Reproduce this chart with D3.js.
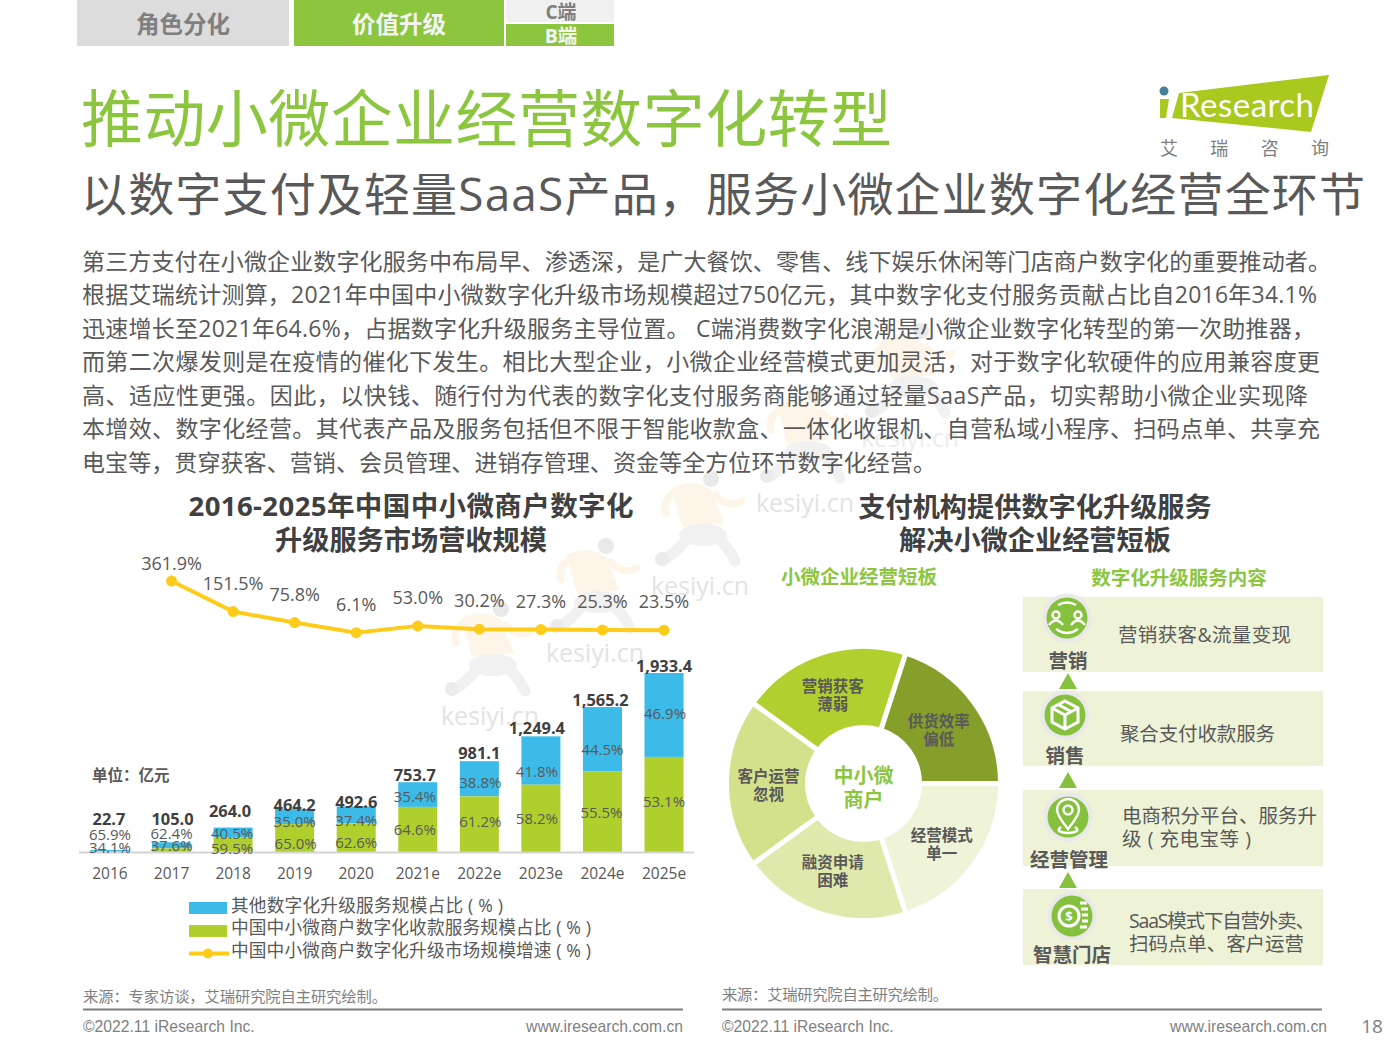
<!DOCTYPE html>
<html lang="zh">
<head>
<meta charset="UTF-8">
<title>推动小微企业经营数字化转型</title>
<script src="https://d3js.org/d3.v7.min.js"></script>
<style>
    html, body { margin: 0; background: #fff; }
    svg { display: block; }
    text { font-family: "Open Sans", "Noto Sans CJK SC", sans-serif; }
    .cjk { font-family: "Noto Sans CJK SC", sans-serif; }
    .arial { font-family: "Liberation Sans", Arial, sans-serif; }
    .lato { font-family: Lato, sans-serif; }
    .axis path, .axis line { display: none; }
</style>
</head>
<body>
<svg id="page" width="1400" height="1050"></svg>
<script>
// chart data
const years = ["2016", "2017", "2018", "2019", "2020", "2021e", "2022e", "2023e", "2024e", "2025e"];
const revenue = [22.7, 105.0, 264.0, 464.2, 492.6, 753.7, 981.1, 1249.4, 1565.2, 1933.4];
const revenueLabels = ["22.7", "105.0", "264.0", "464.2", "492.6", "753.7", "981.1", "1,249.4", "1,565.2", "1,933.4"];
const paymentShare = [34.1, 37.6, 59.5, 65.0, 62.6, 64.6, 61.2, 58.2, 55.5, 53.1];
const otherShare = [65.9, 62.4, 40.5, 35.0, 37.4, 35.4, 38.8, 41.8, 44.5, 46.9];
const growth = [361.9, 151.5, 75.8, 6.1, 53.0, 30.2, 27.3, 25.3, 23.5];

const legendLabels = ["其他数字化升级服务规模占比 ( % )", "中国中小微商户数字化收款服务规模占比 ( % )", "中国中小微商户数字化升级市场规模增速 ( % )"];
const painPoints = ["营销获客|薄弱", "供货效率|偏低", "经营模式|单一", "融资申请|困难", "客户运营|忽视"];
const serviceNames = ["营销", "销售", "经营管理", "智慧门店"];
const serviceTexts = [
    ["营销获客&流量变现"],
    ["聚合支付收款服务"],
    ["电商积分平台、服务升", "级 ( 充电宝等 )"],
    ["SaaS模式下自营外卖、", "扫码点单、客户运营"]
];
const bodyLines = [
    "第三方支付在小微企业数字化服务中布局早、渗透深，是广大餐饮、零售、线下娱乐休闲等门店商户数字化的重要推动者。",
    "根据艾瑞统计测算，2021年中国中小微数字化升级市场规模超过750亿元，其中数字化支付服务贡献占比自2016年34.1%",
    "迅速增长至2021年64.6%，占据数字化升级服务主导位置。 C端消费数字化浪潮是小微企业数字化转型的第一次助推器，",
    "而第二次爆发则是在疫情的催化下发生。相比大型企业，小微企业经营模式更加灵活，对于数字化软硬件的应用兼容度更",
    "高、适应性更强。因此，以快钱、随行付为代表的数字化支付服务商能够通过轻量SaaS产品，切实帮助小微企业实现降",
    "本增效、数字化经营。其代表产品及服务包括但不限于智能收款盒、一体化收银机、自营私域小程序、扫码点单、共享充",
    "电宝等，贯穿获客、营销、会员管理、进销存管理、资金等全方位环节数字化经营。"
];

const GREEN = "#8cc63f", BAR_GREEN = "#afcf2d", BAR_BLUE = "#3dbbe8", YELLOW = "#fdcb1a";
const DARK = "#404040", MID = "#595959", GREY = "#7f7f7f";

const svg = d3.select("#page");

function txt(parent, x, y, str, size, color, opts = {}) {
    const t = parent.append("text")
        .attr("x", x).attr("y", y)
        .attr("dominant-baseline", "central")
        .attr("text-anchor", opts.anchor || "start")
        .attr("font-size", size)
        .attr("font-weight", opts.bold ? 700 : 400)
        .attr("fill", color)
        .attr("class", opts.cls || null)
        .text(str);
    if (opts.width) t.attr("textLength", opts.width).attr("lengthAdjust", "spacing");
    return t;
}

// watermark goes first so everything sits on top of it
const marks = svg.append("g");
[[490, 715], [595, 652], [700, 585], [805, 502], [910, 437]].forEach(([x, y], i) => {
    const g = marks.append("g").attr("transform", `translate(${x},${y})`).attr("stroke-linecap", "round");
    g.append("path").attr("d", "M-28,-97 Q-4,-108 12,-94 L24,-62 L-18,-58 Z").attr("fill", "#fdf5e8");
    g.append("path").attr("d", "M-26,-92 Q-38,-84 -34,-72 M16,-90 Q28,-76 42,-84")
        .attr("fill", "none").attr("stroke", "#fdf5e8").attr("stroke-width", 7);
    g.append("ellipse").attr("cx", 3).attr("cy", -50).attr("rx", 24).attr("ry", 11).attr("fill", "#f1f1f1");
    g.append("path").attr("d", "M-10,-50 Q-22,-34 -33,-27 M14,-50 Q26,-42 35,-24")
        .attr("fill", "none").attr("stroke", "#f1f1f1").attr("stroke-width", 11);
    g.append("circle").attr("cx", -38).attr("cy", -26).attr("r", 7).attr("fill", "#ebebeb");
    g.append("circle").attr("cx", 11).attr("cy", -106).attr("r", 8).attr("fill", "#e9e9e9");
    txt(marks, x, y, "kesiyi.cn", 25, i === 4 ? "#ededed" : "#e3e3e3", {anchor: "middle"});
});

// header tabs
const tabs = svg.append("g");
tabs.append("rect").attr("x", 77).attr("y", 0).attr("width", 212).attr("height", 46).attr("fill", "#dcdcdc");
tabs.append("rect").attr("x", 294).attr("y", 0).attr("width", 210).attr("height", 46).attr("fill", GREEN);
tabs.append("rect").attr("x", 506).attr("y", 0).attr("width", 108).attr("height", 22).attr("fill", "#f0f0f0");
tabs.append("rect").attr("x", 506).attr("y", 24).attr("width", 108).attr("height", 22).attr("fill", GREEN);
txt(tabs, 183, 24, "角色分化", 23.5, GREY, {anchor: "middle", bold: true});
txt(tabs, 399, 24, "价值升级", 23.5, "#f4f4f4", {anchor: "middle", bold: true});
txt(tabs, 561, 12, "C端", 19, GREY, {anchor: "middle", bold: true});
txt(tabs, 561, 35, "B端", 19.5, "#f4f4f4", {anchor: "middle", bold: true});

// logo
const logo = svg.append("g");
logo.append("path").attr("d", "M1179,93 L1329,75 L1311,132 L1172,118 Z").attr("fill", "#a9c91e");
logo.append("path").attr("d", "M1160,99 L1169,99 L1166,118 L1160,118 Z").attr("fill", "#a9c91e");
logo.append("circle").attr("cx", 1164).attr("cy", 91).attr("r", 4.5).attr("fill", "#4a7f9a");
txt(logo, 1180, 104, "Research", 33, "#fff", {cls: "lato", width: 134});
["艾", "瑞", "咨", "询"].forEach((c, i) => txt(logo, d3.scaleLinear([0, 3], [1169, 1320])(i), 148, c, 18, GREY, {anchor: "middle"}));

// headings and body copy
txt(svg, 81, 115, "推动小微企业经营数字化转型", 62, GREEN, {cls: "cjk", width: 811});
txt(svg, 81, 193, "以数字支付及轻量SaaS产品，服务小微企业数字化经营全环节", 46, MID, {width: 1284});
const bodyWidths = [1249, 1235, 1233, 1238, 1226, 1238, 854];
bodyLines.forEach((line, i) => {
    txt(svg, 82, 260.5 + i * 33.5, line, 23, MID, {width: bodyWidths[i]});
});

txt(svg, 411, 505, "2016-2025年中国中小微商户数字化", 27.5, DARK, {anchor: "middle", bold: true, width: 445});
txt(svg, 411, 539, "升级服务市场营收规模", 27.2, DARK, {anchor: "middle", bold: true});
txt(svg, 1035, 506, "支付机构提供数字化升级服务", 27.2, DARK, {anchor: "middle", bold: true});
txt(svg, 1035, 539.5, "解决小微企业经营短板", 27.2, DARK, {anchor: "middle", bold: true});
txt(svg, 859, 576, "小微企业经营短板", 19.5, GREEN, {anchor: "middle", bold: true});
txt(svg, 1179, 577, "数字化升级服务内容", 19.5, GREEN, {anchor: "middle", bold: true});

// left chart
const x = d3.scaleBand().domain(years).range([79.2, 694.8]).paddingInner(0.366).paddingOuter(0.183);
const y = d3.scaleLinear().domain([0, 1933.4]).range([852, 673]);
const yGrowth = d3.scaleLinear().domain([6.1, 361.9]).range([632.7, 581]);
const cx = d => x(d) + x.bandwidth() / 2;

const chart = svg.append("g");
const rows = years.map((year, i) => ({year, i, total: revenue[i], green: revenue[i] * paymentShare[i] / 100}));

chart.selectAll("rect.blue").data(rows).join("rect").attr("class", "blue")
    .attr("x", d => x(d.year)).attr("width", x.bandwidth())
    .attr("y", d => y(d.total)).attr("height", d => y(d.green) - y(d.total))
    .attr("fill", BAR_BLUE);
chart.selectAll("rect.green").data(rows).join("rect").attr("class", "green")
    .attr("x", d => x(d.year)).attr("width", x.bandwidth())
    .attr("y", d => y(d.green)).attr("height", d => y(0) - y(d.green))
    .attr("fill", BAR_GREEN);

const axis = chart.append("g").attr("class", "axis").attr("transform", "translate(0,852)")
    .call(d3.axisBottom(x).tickSize(0).tickPadding(16));
axis.selectAll("text").attr("font-size", 15.5).attr("fill", MID);
chart.append("line").attr("x1", 79).attr("x2", 694).attr("y1", 852.5).attr("y2", 852.5)
    .attr("stroke", "#d4d4d4").attr("stroke-width", 2);

// hand placed in the original, so nudges from the segment middle / bar top
const totalNudge = [-31, -24, -17, -5, -5, -8, -9, -9, -8, -8];
const totalNudgeX = [-1, 1, -3, 0, 0, -3, 0, -4, -2, 0];
const otherNudge = [-17, -12, 0, 4, 5, 1, 3, 10, 10, -2];
const otherNudgeX = [0, 0, -1, 0, 0, -3, 1, -4, 0, 1];
const payNudge = [-5, -5, 3, 5, 4, 0, -3, 0, 0, -3];
const payNudgeX = [0, 0, -1, 1, 0, -3, 1, -4, -1, 0];

rows.forEach(d => {
    const c = cx(d.year), i = d.i;
    txt(chart, c + totalNudgeX[i], y(d.total) + totalNudge[i], revenueLabels[i], 16.4, DARK, {anchor: "middle", bold: true});
    txt(chart, c + otherNudgeX[i], (y(d.total) + y(d.green)) / 2 + otherNudge[i], otherShare[i].toFixed(1) + "%", 15, MID, {anchor: "middle"});
    txt(chart, c + payNudgeX[i], (y(d.green) + y(0)) / 2 + payNudge[i], paymentShare[i].toFixed(1) + "%", 15, MID, {anchor: "middle"});
});

txt(chart, 92, 775, "单位：亿元", 15.5, MID, {bold: true});

// growth has no value for 2016, first point sits over 2017
const growthYears = years.slice(1);
const line = d3.line().x(d => cx(d.year)).y(d => yGrowth(d.v));
const growthRows = growth.map((v, i) => ({year: growthYears[i], v, i}));
chart.append("path").datum(growthRows).attr("d", line)
    .attr("fill", "none").attr("stroke", YELLOW).attr("stroke-width", 4);
chart.selectAll("circle.pt").data(growthRows).join("circle").attr("class", "pt")
    .attr("cx", d => cx(d.year)).attr("cy", d => yGrowth(d.v)).attr("r", 5.5).attr("fill", YELLOW);
growthRows.forEach(d => {
    const lift = d.i === 0 ? 18 : 29;
    txt(chart, cx(d.year), yGrowth(d.v) - lift, d.v.toFixed(1) + "%", 18, MID, {anchor: "middle"});
});

// legend
const legend = svg.append("g");
legend.append("rect").attr("x", 189).attr("y", 902).attr("width", 38).attr("height", 12).attr("fill", BAR_BLUE);
legend.append("rect").attr("x", 189).attr("y", 925).attr("width", 38).attr("height", 12).attr("fill", BAR_GREEN);
legend.append("line").attr("x1", 189).attr("x2", 229).attr("y1", 953.5).attr("y2", 953.5).attr("stroke", YELLOW).attr("stroke-width", 4);
legend.append("circle").attr("cx", 208).attr("cy", 953.5).attr("r", 5).attr("fill", YELLOW);
const legendWidths = [272, 360, 360];
legendLabels.forEach((s, i) => txt(legend, 231, 904.5 + i * 22.5, s, 17.7, MID, {width: legendWidths[i]}));

// donut
const donut = svg.append("g").attr("transform", "translate(863.5,783.5)");
const sliceColors = ["#b1cf2e", "#869f2a", "#eff3d8", "#dfe9ab", "#d3e18b"];
const pie = d3.pie().value(1).sort(null).startAngle(-54 * Math.PI / 180).endAngle(306 * Math.PI / 180);
const arc = d3.arc().innerRadius(56).outerRadius(137);
const labelArc = d3.arc().innerRadius(93).outerRadius(93);
const labelNudge = [[-2, 0], [0, 1], [3, 6], [-2, -1], [-2, 1]];
const slices = pie(painPoints);
donut.selectAll("path").data(slices).join("path")
    .attr("d", arc).attr("fill", (d, i) => sliceColors[i])
    .attr("stroke", "#fff").attr("stroke-width", 5);
slices.forEach((d, k) => {
    const [lx, ly] = labelArc.centroid(d);
    d.data.split("|").forEach((s, i) => {
        txt(donut, lx + labelNudge[k][0], ly + labelNudge[k][1] + (i - 0.5) * 18, s, 15.5, MID, {anchor: "middle", bold: true});
    });
});
txt(donut, 0, -8, "中小微", 20, GREEN, {anchor: "middle", bold: true});
txt(donut, 0, 16, "商户", 20, GREEN, {anchor: "middle", bold: true});

// service boxes
const boxY = [597, 691, 790, 889];
const boxH = [75, 75, 76, 76];
const iconPos = [[1067, 618], [1065, 715], [1068, 817], [1072, 916]];
const namePos = [[1068, 660], [1065, 755], [1069, 859], [1072, 954]];
const textPos = [[1118, 634], [1120, 733], [1122, 815], [1129, 920]];
const textWidths = [[173], [155], [195, 129], [186, 175]];
const arrowTop = [673, 772, 872];
const services = svg.append("g");
serviceNames.forEach((name, i) => {
    services.append("rect").attr("x", 1023).attr("y", boxY[i]).attr("width", 300).attr("height", boxH[i]).attr("fill", "#eef3d8");
});
arrowTop.forEach(t => {
    services.append("path").attr("d", `M1068,${t} L1077,${t + 16} L1059,${t + 16} Z`).attr("fill", "#85c13d");
});
serviceNames.forEach((name, i) => {
    const [ix, iy] = iconPos[i];
    services.append("circle").attr("cx", ix).attr("cy", iy).attr("r", 24.5).attr("fill", "#e9e9e9");
    services.append("circle").attr("cx", ix).attr("cy", iy).attr("r", 20.5).attr("fill", "#85c13d");
    const g = services.append("g").attr("transform", `translate(${ix},${iy})`)
        .attr("fill", "none").attr("stroke", "#fff").attr("stroke-width", 2.4);
    if (i === 0) {
        g.append("circle").attr("cx", -11).attr("cy", -3).attr("r", 3.5);
        g.append("circle").attr("cx", 11).attr("cy", -3).attr("r", 3.5);
        g.append("path").attr("d", "M-18,7 Q-11,-2 -4,7 M4,7 Q11,-2 18,7 M-9,-13 Q0,-18 9,-13 M-11,11 Q0,19 11,11");
    } else if (i === 1) {
        g.append("path").attr("d", "M0,-14 L13,-7 L13,7 L0,14 L-13,7 L-13,-7 Z M-13,-7 L0,0 L13,-7 M0,0 L0,14 M-6,-10 L7,-3").attr("stroke-width", 3);
    } else if (i === 2) {
        g.append("path").attr("d", "M0,12 C-8,2 -11,-3 -11,-7 A11,11 0 0 1 11,-7 C11,-3 8,2 0,12 Z");
        g.append("circle").attr("cx", 0).attr("cy", -7).attr("r", 4.5);
        g.append("path").attr("d", "M-7,10 Q-14,15 0,16 Q14,15 7,10");
    } else {
        g.append("circle").attr("cx", -3).attr("cy", 0).attr("r", 10).attr("stroke-width", 3);
        g.append("path").attr("d", "M8,-13 L15,-13 M9,-7 L16,-7 M10,-1 L16,-1 M10,5 L16,5 M8,11 L15,11").attr("stroke-width", 3);
        txt(g, -3, 0, "$", 13, "#fff", {anchor: "middle", bold: true}).attr("stroke", "none");
    }
    txt(services, namePos[i][0], namePos[i][1], name, 19.5, MID, {anchor: "middle", bold: true});
    serviceTexts[i].forEach((s, j) => {
        txt(services, textPos[i][0], textPos[i][1] + j * 23.5, s, 19.5, MID, {width: textWidths[i][j]});
    });
});

// footer
const footer = svg.append("g");
txt(footer, 83, 996, "来源：专家访谈，艾瑞研究院自主研究绘制。", 15.3, GREY, {width: 304});
txt(footer, 722, 994, "来源：艾瑞研究院自主研究绘制。", 15.3, GREY, {width: 226});
[[83, 683], [722, 1322]].forEach(([a, b]) => {
    footer.append("line").attr("x1", a).attr("x2", b).attr("y1", 1009.5).attr("y2", 1009.5).attr("stroke", GREY).attr("stroke-width", 2);
    txt(footer, a, 1026.5, "©2022.11 iResearch Inc.", 15.7, GREY, {cls: "arial"});
    txt(footer, b + (b > 1000 ? 5 : 0), 1026.5, "www.iresearch.com.cn", 15.7, GREY, {cls: "arial", anchor: "end"});
});
txt(footer, 1372, 1026, "18", 19, GREY, {anchor: "middle"});
</script>
</body>
</html>
